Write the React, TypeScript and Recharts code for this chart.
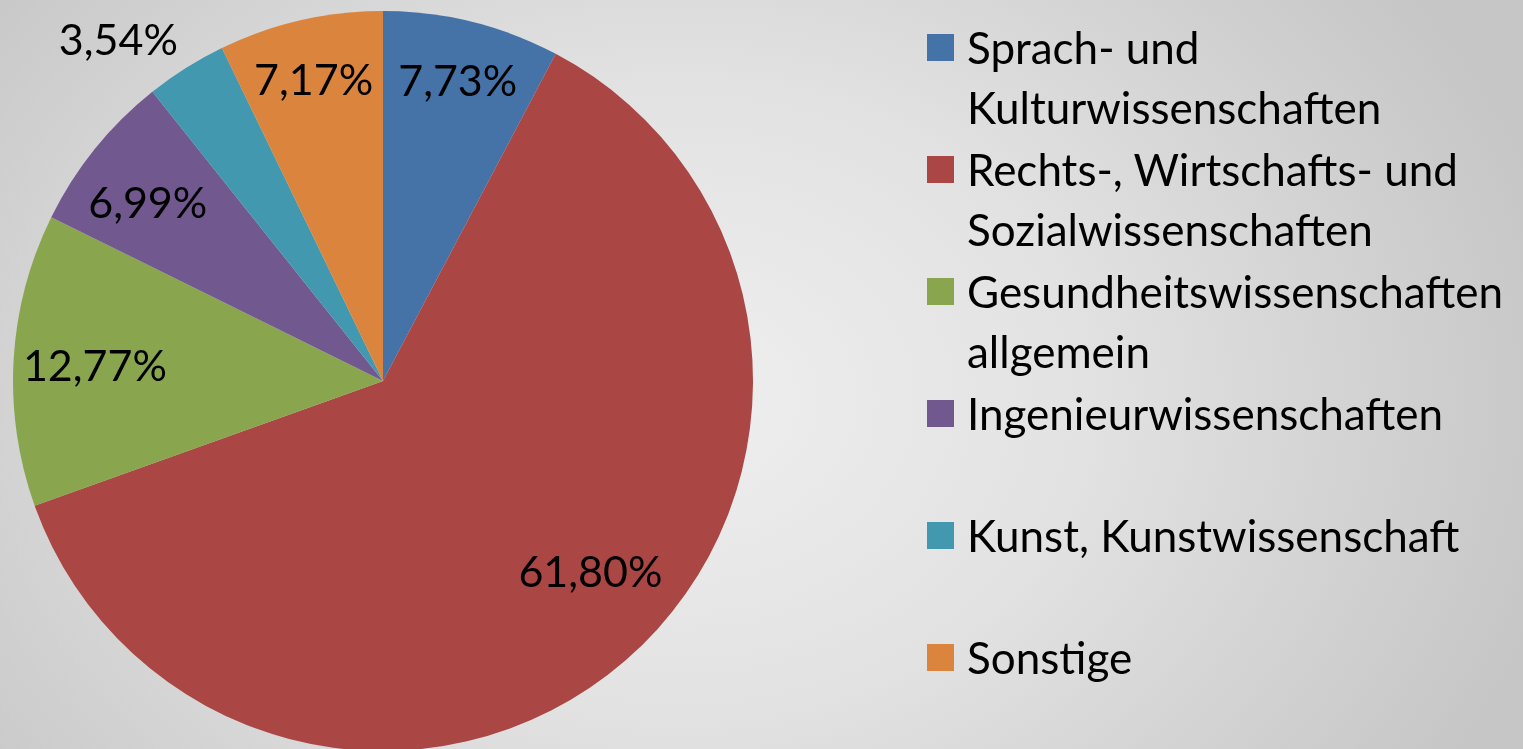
import { PieChart, Pie, Cell, Legend } from 'recharts';

const categories = [
  'Sprach- und Kulturwissenschaften',
  'Rechts-, Wirtschafts- und Sozialwissenschaften',
  'Gesundheitswissenschaften allgemein',
  'Ingenieurwissenschaften',
  'Kunst, Kunstwissenschaft',
  'Sonstige',
];
const shares = [7.73, 61.8, 12.77, 6.99, 3.54, 7.17];
const legendLines = [
  ['Sprach- und', 'Kulturwissenschaften'],
  ['Rechts-, Wirtschafts- und', 'Sozialwissenschaften'],
  ['Gesundheitswissenschaften', 'allgemein'],
  ['Ingenieurwissenschaften'],
  ['Kunst, Kunstwissenschaft'],
  ['Sonstige'],
];

const colors = ['#4572A7', '#AA4643', '#89A54E', '#71588F', '#4198AF', '#DB843D'];
// label distance from centre, as a fraction of the radius (Excel "best fit")
const labelRadius = [0.84, 0.76, 0.78, 0.8, 1.17, 0.84];
const labelAngleShift = [0, 6.6, 0, 1.5, 5.5, 0];

const FONT = 'Lato, "Open Sans", sans-serif';
const RADIAN = Math.PI / 180;

const data = categories.map((name, i) => ({ name, value: shares[i] }));

const fmt = (v: number) => v.toFixed(2).replace('.', ',') + '%';

const renderLabel = (props: any) => {
  const { cx, cy, midAngle, outerRadius, index, value } = props;
  const a = (midAngle + labelAngleShift[index]) * RADIAN;
  const r = outerRadius * labelRadius[index];
  const x = cx + r * Math.cos(a);
  const y = cy - r * Math.sin(a);
  return (
    <text
      x={x}
      y={y}
      fill="#000"
      textAnchor="middle"
      dominantBaseline="central"
      style={{ fontFamily: FONT, fontSize: 43 }}
    >
      {fmt(value)}
    </text>
  );
};

const renderLegend = () => (
  <div style={{ fontFamily: FONT, fontSize: 44, color: '#000' }}>
    {legendLines.map((lines, i) => (
      <div key={i} style={{ position: 'relative', height: 122 }}>
        <div
          style={{
            position: 'absolute',
            left: 0,
            top: 22,
            width: 27,
            height: 27,
            background: colors[i],
          }}
        />
        {lines.map((t, j) => (
          <div
            key={j}
            style={{ position: 'absolute', left: 40, top: j * 60, lineHeight: '70px', whiteSpace: 'nowrap' }}
          >
            {t}
          </div>
        ))}
      </div>
    ))}
  </div>
);

export default function App() {
  return (
    <div
      style={{
        position: 'fixed',
        left: 0,
        top: 0,
        width: 1523,
        height: 749,
        background:
          'radial-gradient(ellipse 900px 700px at 680px 400px, #efefef 0%, #e2e2e2 45%, #c6c6c6 100%)',
      }}
    >
      <PieChart width={1523} height={749} margin={{ top: 0, right: 0, bottom: 0, left: 0 }}>
        <Pie
          data={data}
          dataKey="value"
          nameKey="name"
          cx={383}
          cy={381}
          outerRadius={370}
          startAngle={90}
          endAngle={-270}
          stroke="none"
          label={renderLabel}
          labelLine={false}
          isAnimationActive={false}
        >
          {data.map((d, i) => (
            <Cell key={d.name} fill={colors[i]} />
          ))}
        </Pie>
        <Legend
          layout="vertical"
          align="right"
          verticalAlign="top"
          content={renderLegend}
          wrapperStyle={{ left: 927, top: 12, width: 590 }}
        />
      </PieChart>
    </div>
  );
}
